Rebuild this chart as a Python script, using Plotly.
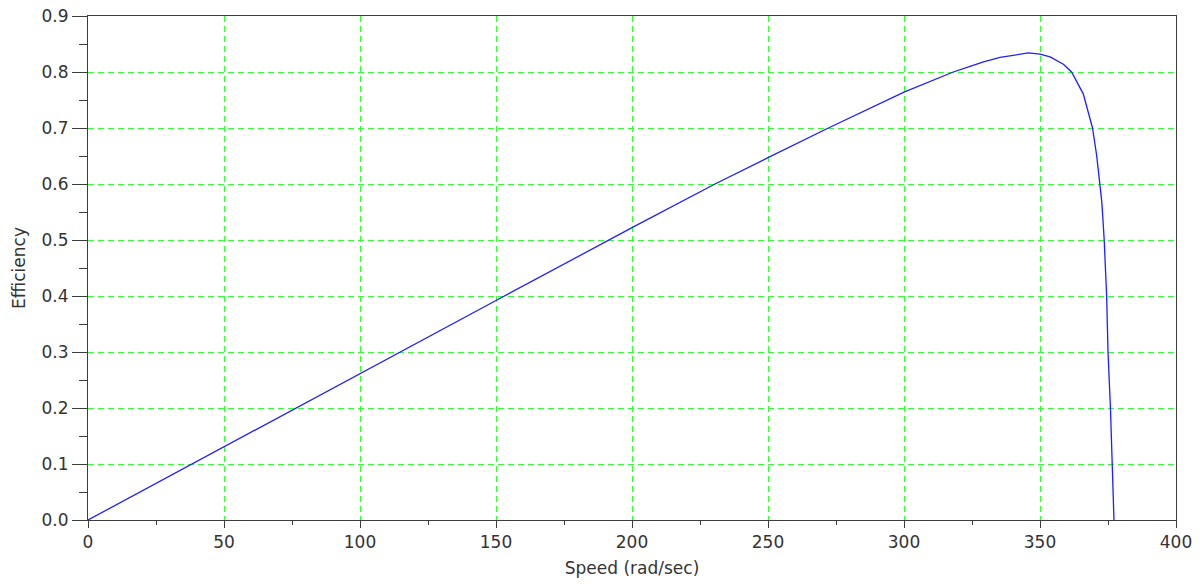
import plotly.graph_objects as go

# Values
speed = [0, 50, 100, 150, 200, 230.5, 250, 272.2, 300, 318.1, 324.3, 329.2, 335.3,
         341.4, 345.6, 350, 353.7, 358.6, 361.6, 365.9, 368.4, 369.3, 370.8,
         372.0, 372.7, 373.1, 373.6, 374.5, 375.0, 375.9, 376.5, 377.2]
efficiency = [0.0, 0.131, 0.262, 0.392, 0.522, 0.600, 0.647, 0.700, 0.764, 0.800,
              0.810, 0.818, 0.826, 0.8315, 0.834, 0.832, 0.827, 0.814, 0.800,
              0.761, 0.717, 0.700, 0.652, 0.600, 0.569, 0.540, 0.500, 0.400,
              0.300, 0.200, 0.100, 0.0]

x_ticks = [0, 50, 100, 150, 200, 250, 300, 350, 400]
y_ticks = [0.0, 0.1, 0.2, 0.3, 0.4, 0.5, 0.6, 0.7, 0.8, 0.9]

axis_col = "#3c3c3c"
grid_col = "#33ff33"
font_fam = "DejaVu Sans, Liberation Sans, Arial, sans-serif"

fig = go.Figure()
fig.add_trace(go.Scatter(x=speed, y=efficiency, mode="lines",
                         line=dict(color="#1f1fff", width=1.3),
                         showlegend=False, hoverinfo="x+y"))

fig.update_layout(
    width=1202, height=588,
    margin=dict(l=88, r=26, t=16, b=68, pad=0),
    paper_bgcolor="white", plot_bgcolor="white",
    font=dict(family=font_fam, size=17, color="#333333"),
)

fig.update_xaxes(
    range=[0, 400], tickvals=x_ticks, ticktext=[str(v) for v in x_ticks],
    showline=True, linecolor=axis_col, linewidth=1, mirror=True,
    ticks="outside", ticklen=7, tickcolor=axis_col, tickwidth=1,
    showgrid=True, gridcolor=grid_col, griddash="6px,4px", gridwidth=1,
    minor=dict(dtick=25, ticks="outside", ticklen=4, tickcolor=axis_col, showgrid=False),
    zeroline=False, automargin=False, ticklabeloverflow="allow",
    title=dict(text="Speed (rad/sec)", standoff=10, font=dict(size=17)),
)
fig.update_yaxes(
    range=[0, 0.9], tickvals=y_ticks, ticktext=[f"{v:.1f}" for v in y_ticks],
    showline=True, linecolor=axis_col, linewidth=1, mirror=True,
    ticks="outside", ticklen=15, tickcolor=axis_col, tickwidth=1,
    showgrid=True, gridcolor=grid_col, griddash="6px,4px", gridwidth=1,
    minor=dict(dtick=0.05, ticks="outside", ticklen=8, tickcolor=axis_col, showgrid=False),
    zeroline=False, automargin=False, ticklabeloverflow="allow",
    title=dict(text="Efficiency", standoff=11, font=dict(size=17)),
)

# Remove the browser's default 8px page margin so the figure fills the window
fig.write_html("out.html", config={"displayModeBar": False},
               post_script="document.body.style.margin='0';")
